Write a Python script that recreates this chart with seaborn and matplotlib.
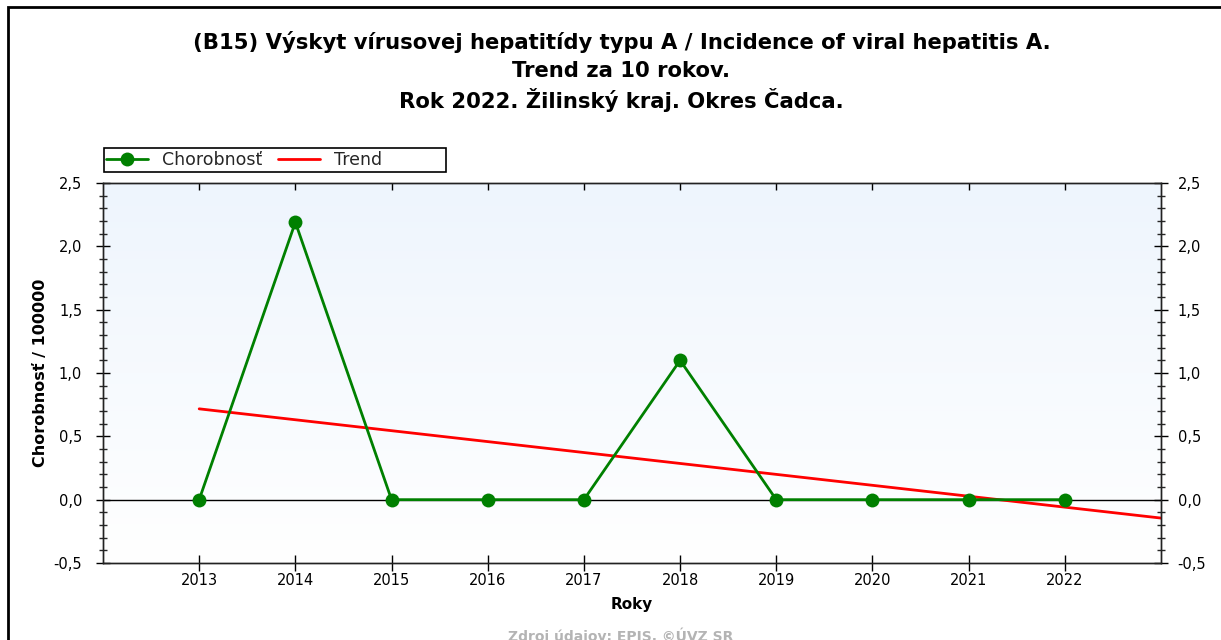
import numpy as np
import pandas as pd
import matplotlib
matplotlib.use("Agg")
import matplotlib.pyplot as plt
from matplotlib.ticker import MultipleLocator, FuncFormatter
from matplotlib.patches import Rectangle
import seaborn as sns

years = [2013, 2014, 2015, 2016, 2017, 2018, 2019, 2020, 2021, 2022]
rates = [0.0, 2.19, 0.0, 0.0, 0.0, 1.10, 0.0, 0.0, 0.0, 0.0]
trend_years = [2013, 2023]

title_lines = ["(B15) Výskyt vírusovej hepatitídy typu A / Incidence of viral hepatitis A.",
               "Trend za 10 rokov.",
               "Rok 2022. Žilinský kraj. Okres Čadca."]

sns.set_theme(style="white")
plt.rcParams['font.family'] = ['DejaVu Sans']

df = pd.DataFrame({"Rok": years, "Chorobnost": rates})
# linear trend through the 10 years, extended one year ahead
slope, intercept = np.polyfit(np.arange(len(years)), rates, 1)
trend_x = np.array(trend_years)
trend_df = pd.DataFrame({"Rok": trend_x,
                         "Trend": intercept + slope * (trend_x - years[0])})

W, H = 1221, 640
fig = plt.figure(figsize=(W / 100, H / 100), dpi=100)
ax = fig.add_axes([103 / W, 1 - 563 / H, (1161 - 103) / W, (563 - 183) / H])

# light blue to white background
grad = np.linspace(1, 0, 256).reshape(-1, 1)
cmap = matplotlib.colors.LinearSegmentedColormap.from_list("bg", ["#ffffff", "#eef5fd"])
ax.imshow(grad, extent=[2012, 2023, -0.5, 2.5], aspect="auto", cmap=cmap,
          origin="upper", zorder=0)

ax.axhline(0, color="black", lw=1, zorder=1)
sns.lineplot(data=trend_df, x="Rok", y="Trend", color="#ff0000", lw=2,
             ax=ax, label="Trend", zorder=2)
sns.lineplot(data=df, x="Rok", y="Chorobnost", color="#008000", lw=2,
             marker="o", markersize=10, markeredgewidth=0, ax=ax,
             label="Chorobnosť", zorder=3)

ax.set_xlim(2012, 2023)
ax.set_ylim(-0.5, 2.5)
ax.set_xticks(years)
fmt = FuncFormatter(lambda v, p: f"{v:.1f}".replace(".", ","))

# right axis as a twin so its labels can sit closer than the left ones
ax2 = ax.twinx()
ax2.set_ylim(-0.5, 2.5)
for a, side, pad in [(ax, "left", 10), (ax2, "right", 7)]:
    a.yaxis.set_major_locator(MultipleLocator(0.5))
    a.yaxis.set_minor_locator(MultipleLocator(0.1))
    a.yaxis.set_major_formatter(fmt)
    a.tick_params(axis="y", which="major", direction="inout", length=10, width=1,
                  labelsize=10.5, colors="black", pad=pad)
    a.tick_params(axis="y", which="minor", direction="inout", length=6, width=1)
    a.tick_params(axis="y", which="both", left=(side == "left"), right=(side == "right"),
                  labelleft=(side == "left"), labelright=(side == "right"))
    for s in a.spines.values():
        s.set_color("#222222")
        s.set_linewidth(1)

ax.tick_params(axis="x", which="major", direction="inout", length=12, width=1,
               bottom=True, labelsize=10.5, colors="black", pad=1)
ax.tick_params(axis="x", which="major", top=True)
for t in ax.xaxis.get_major_ticks():
    t.tick2line.set_markersize(5)
    t.tick2line.set_marker(3)

ax.set_xlabel("Roky", fontsize=11, fontweight="bold", labelpad=7, color="black")
ax.set_ylabel("Chorobnosť / 100000", fontsize=11.5, fontweight="bold", labelpad=4,
              color="black")

handles, labels = ax.get_legend_handles_labels()
ax.get_legend().remove()
order = [labels.index("Chorobnosť"), labels.index("Trend")]
leg = fig.legend([handles[i] for i in order], [labels[i] for i in order],
                 loc="center left", bbox_to_anchor=(106 / W, 1 - 160 / H),
                 ncol=2, frameon=False, fontsize=12.5, borderpad=0, borderaxespad=0,
                 handlelength=2.4, handletextpad=0.8, columnspacing=0.95)
# legend box, drawn as the reference's fixed-width frame
fig.patches.append(Rectangle((104 / W, 1 - 172 / H), (446 - 104) / W, 24 / H,
                             transform=fig.transFigure, fill=False,
                             edgecolor="black", lw=1.2))

for yc, line in zip([42, 71, 100], title_lines):
    fig.text(0.509, 1 - yc / H, line, ha="center", va="center", fontsize=15.2,
             fontweight="bold", color="black")
fig.text(0.508, 1 - 628 / H, "Zdroj údajov: EPIS, ©ÚVZ SR", ha="center", va="top",
         fontsize=10, fontweight="bold", color="#b4b4b4")

fig.patches.append(Rectangle((8 / W, -0.2), 1.2, 1.2 - 7 / H, transform=fig.transFigure,
                             fill=False, edgecolor="black", lw=2))

fig.savefig("out.png", dpi=100)
